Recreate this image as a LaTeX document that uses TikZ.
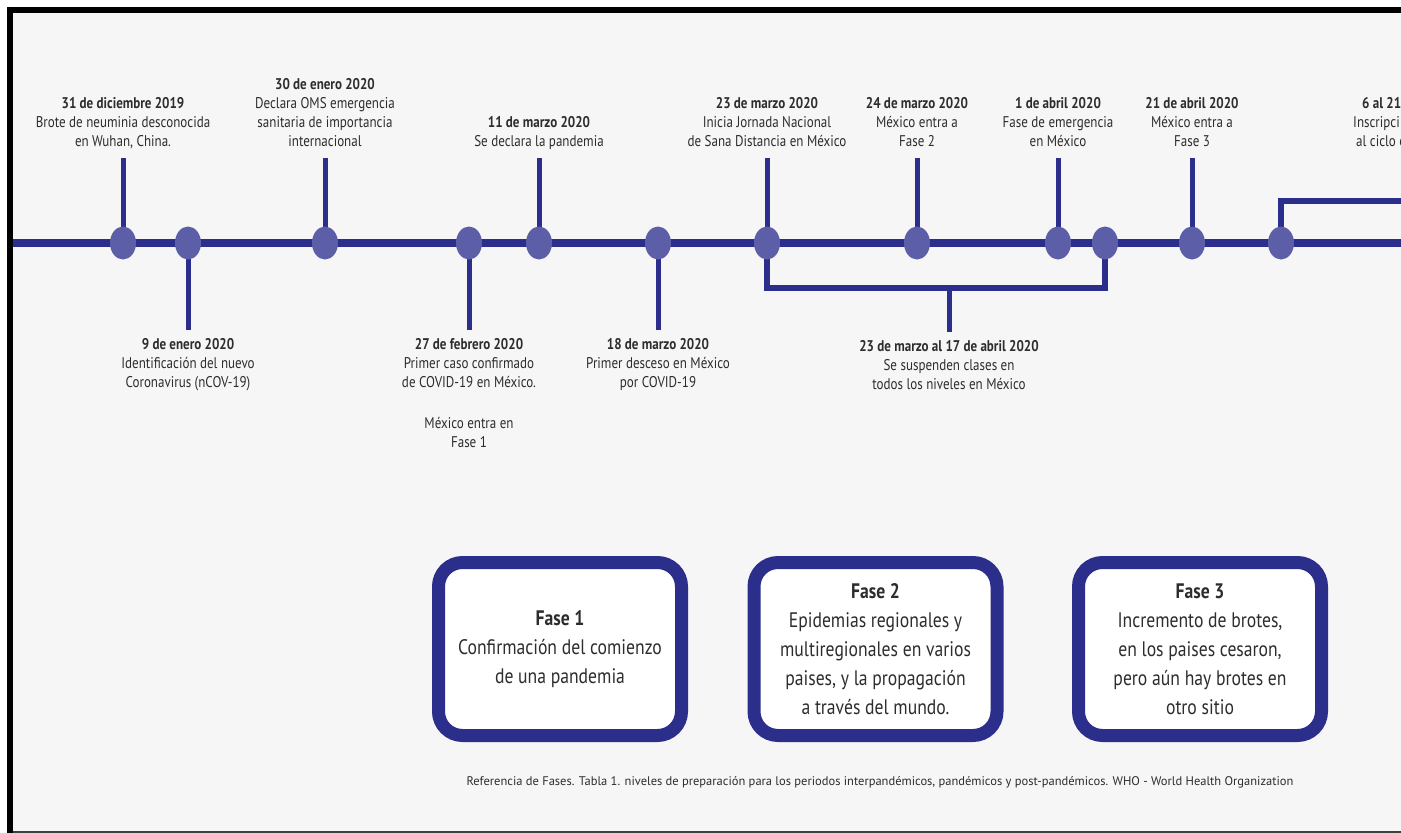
\documentclass[tikz,border=0pt]{standalone}
\usepackage{fontspec}
\setmainfont{PT Sans}[FakeStretch=0.84]
\newfontfamily\reffont{PT Sans}
\usetikzlibrary{shapes.geometric}
\definecolor{navy}{RGB}{44,46,140}
\definecolor{dotblue}{RGB}{92,94,168}
\definecolor{paper}{RGB}{246,246,246}
\definecolor{ink}{RGB}{45,45,45}

\begin{document}
\begin{tikzpicture}
        [x=1pt, y=-1pt,
        hline/.style={navy, line width=7.5pt},
        vline/.style={navy, line width=5pt},
        brk/.style={navy, line width=6.5pt},
        dot/.style={ellipse, fill=dotblue, minimum width=26pt, minimum height=33pt, inner sep=0pt},
        toplbl/.style={anchor=south, align=center, inner sep=0pt, text=ink, font=\fontsize{15.5}{19}\selectfont},
        botlbl/.style={anchor=north, align=center, inner sep=0pt, text=ink, font=\fontsize{15.5}{19}\selectfont},
        fasebox/.style={draw=navy, line width=13pt, rounded corners=24pt, fill=white,
          minimum width=243pt, minimum height=173pt, align=center, text=ink,
          font=\fontsize{21}{29}\selectfont}]
        \useasboundingbox (0,0) rectangle (1401,833);
        % frame
        \fill[paper] (13,13) rectangle (1401,831);
        \fill[black] (7,7) rectangle (1401,13);
        \fill[black] (7,7) rectangle (13,833);
        \fill[black!75] (13,831) rectangle (1401,833);
        % timeline
        \coordinate (start) at (13,243);
        \coordinate (end) at (1401,243);
        \draw[hline] (start) -- (end);
        \coordinate (p1) at (123,243);
        \coordinate (p2) at (188,243);
        \coordinate (p3) at (325,243);
        \coordinate (p4) at (469,243);
        \coordinate (p5) at (539,243);
        \coordinate (p6) at (658,243);
        \coordinate (p7) at (767,243);
        \coordinate (p8) at (917,243);
        \coordinate (p9) at (1058,243);
        \coordinate (p10) at (1105,243);
        \coordinate (p11) at (1192,243);
        \coordinate (p12) at (1281,243);
        % events above
        \node (t1) [toplbl] at (123,152)
          {\textbf{31 de diciembre 2019}\\Brote de neuminia desconocida\\en Wuhan, China.\strut}
          edge[vline, shorten <=6pt] (p1);
        \node (t3) [toplbl] at (325,152)
          {\textbf{30 de enero 2020}\\Declara OMS emergencia\\sanitaria de importancia\\internacional\strut}
          edge[vline, shorten <=6pt] (p3);
        \node (t5) [toplbl] at (539,152)
          {\textbf{11 de marzo 2020}\\Se declara la pandemia\strut}
          edge[vline, shorten <=6pt] (p5);
        \node (t7) [toplbl] at (767,152)
          {\textbf{23 de marzo 2020}\\Inicia Jornada Nacional\\de Sana Distancia en México\strut}
          edge[vline, shorten <=6pt] (p7);
        \node (t8) [toplbl] at (917,152)
          {\textbf{24 de marzo 2020}\\México entra a\\Fase 2\strut}
          edge[vline, shorten <=6pt] (p8);
        \node (t9) [toplbl] at (1058,152)
          {\textbf{1 de abril 2020}\\Fase de emergencia\\en México\strut}
          edge[vline, shorten <=6pt] (p9);
        \node (t11) [toplbl] at (1192,152)
          {\textbf{21 de abril 2020}\\México entra a\\Fase 3\strut}
          edge[vline, shorten <=6pt] (p11);
        \node (t12) [toplbl, anchor=south west, align=left] at (1353,152)
          {\hspace*{9pt}\textbf{6 al 21}\\Inscripci\\\hspace*{3pt}al ciclo e\strut};
        \coordinate (rt) at (1401,201);
        \draw[brk] (p12) |- (rt);
        % events below
        \node (b2) [botlbl] at (188,336)
          {\strut\textbf{9 de enero 2020}\\Identificación del nuevo\\Coronavirus (nCOV-19)}
          edge[vline, shorten <=6pt] (p2);
        \node (b4) [botlbl] at (469,336)
          {\strut\textbf{27 de febrero 2020}\\Primer caso confirmado\\de COVID-19 en México.\\[22pt]México entra en\\Fase 1}
          edge[vline, shorten <=6pt] (p4);
        \node (b6) [botlbl] at (658,336)
          {\strut\textbf{18 de marzo 2020}\\Primer desceso en México\\por COVID-19}
          edge[vline, shorten <=6pt] (p6);
        \coordinate (br) at (949,288);
        \draw[brk] (p7) |- (br) -| (p10);
        \node (b13) [botlbl] at (949,338)
          {\strut\textbf{23 de marzo al 17 de abril 2020}\\Se suspenden clases en\\todos los niveles en México}
          edge[vline, shorten <=6pt] (br);
        % dots
        \foreach \i in {1,...,12}
          \node (c\i) [dot] at (p\i) {};
        % phases
        \node (f1) [fasebox] at (560,649)
          {\textbf{Fase 1}\\Confirmación del comienzo\\de una pandemia};
        \node (f2) [fasebox] at (875.5,649)
          {\textbf{Fase 2}\\Epidemias regionales y\\multiregionales en varios\\paises, y la propagación\\a través del mundo.};
        \node (f3) [fasebox] at (1200,649)
          {\textbf{Fase 3}\\Incremento de brotes,\\en los paises cesaron,\\pero aún hay brotes en\\otro sitio};
        \node (ref) at (880,782) [text=ink, font=\reffont\fontsize{12.5}{15}\selectfont]
          {Referencia de Fases. Tabla 1. niveles de preparación para los periodos interpandémicos, pandémicos y post-pandémicos. WHO - World Health Organization};
\end{tikzpicture}
\end{document}
